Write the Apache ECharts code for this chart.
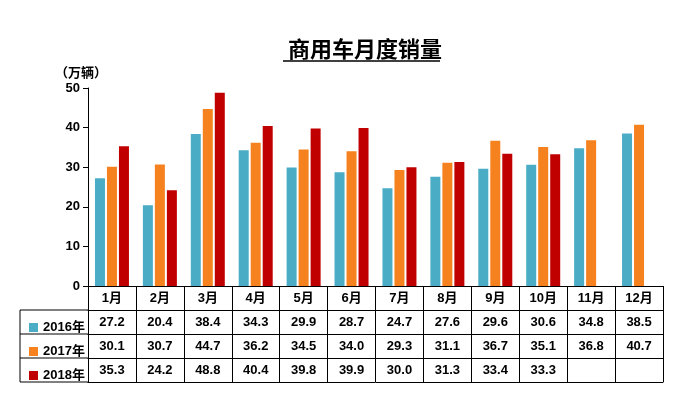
<!DOCTYPE html><html><head><meta charset="utf-8"><script src="https://cdn.jsdelivr.net/npm/echarts@6/dist/echarts.min.js"></script></head><body style="margin:0"><div id="c" style="width:681px;height:402px"></div><script>
const months=['1月','2月','3月','4月','5月','6月','7月','8月','9月','10月','11月','12月'];
const s2016=[27.2,20.4,38.4,34.3,29.9,28.7,24.7,27.6,29.6,30.6,34.8,38.5];
const s2017=[30.1,30.7,44.7,36.2,34.5,34.0,29.3,31.1,36.7,35.1,36.8,40.7];
const s2018=[35.3,24.2,48.8,40.4,39.8,39.9,30.0,31.3,33.4,33.3,null,null];
const names=['2016年','2017年','2018年'];
const colors=['#4BACC6','#F5821F','#C00000'];
const rows=[s2016,s2017,s2018];
const F='Arial, "Noto Sans CJK SC"';
const c=echarts.init(document.getElementById('c'));
const lab={color:'#000',fontSize:13,fontWeight:'bold',fontFamily:F};
const tick={show:true,length:24,interval:0,lineStyle:{color:'#000'}};
const xAxes=[{type:'category',data:months,position:'bottom',offset:0,axisLine:{lineStyle:{color:'#000'}},axisTick:tick,axisLabel:Object.assign({margin:6,interval:0},lab)}];
rows.forEach((r,i)=>xAxes.push({type:'category',data:r.map(v=>v==null?'':v.toFixed(1)),position:'bottom',offset:24*(i+1),axisLine:{lineStyle:{color:'#000'}},axisTick:tick,axisLabel:Object.assign({margin:6,interval:0},lab)}));
xAxes.push({type:'category',data:months,position:'bottom',offset:96,axisLine:{lineStyle:{color:'#000'}},axisTick:{show:false},axisLabel:{show:false}});
const g=[];
[310,334,358,382].forEach(y=>g.push({type:'line',shape:{x1:20,y1:y,x2:88,y2:y},style:{stroke:'#000'}}));
g.push({type:'line',shape:{x1:20,y1:310,x2:20,y2:382},style:{stroke:'#000'}});
g.push({type:'line',shape:{x1:283,y1:61,x2:440,y2:61},style:{stroke:'#000',lineWidth:1.5}});
c.setOption({animation:false,
title:{text:'商用车月度销量',left:283,top:35,textStyle:{fontSize:22,fontWeight:'bold',color:'#000',fontFamily:F}},
legend:{orient:'vertical',left:24,top:316,itemGap:11,itemWidth:9,itemHeight:9,icon:'rect',data:names,textStyle:lab},
grid:{left:88,right:18,top:88,bottom:116},
xAxis:xAxes,
yAxis:{type:'value',min:0,max:50,interval:10,name:'（万辆）',nameGap:8,nameTextStyle:Object.assign({align:'center',padding:[0,0,0,-14]},lab),axisLine:{show:true,lineStyle:{color:'#000'}},axisTick:{show:true,inside:false,lineStyle:{color:'#000'}},splitLine:{show:false},axisLabel:lab},
series:rows.map((r,i)=>({name:names[i],type:'bar',data:r,barWidth:10,barGap:'20%',itemStyle:{color:colors[i]}})),
graphic:g});
</script></body></html>
